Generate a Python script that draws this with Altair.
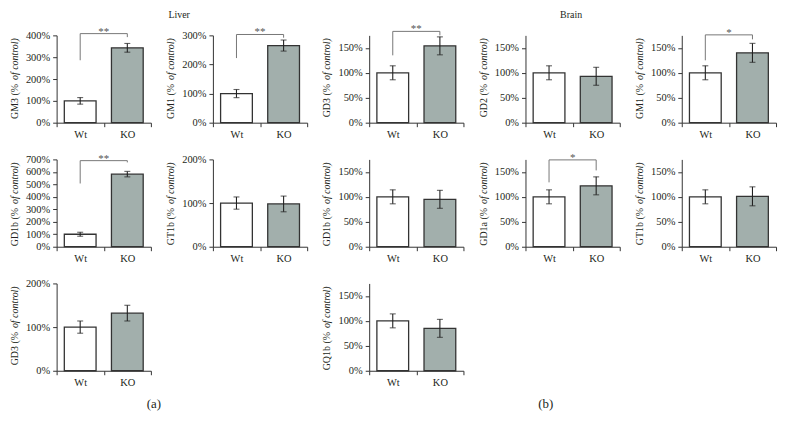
import altair as alt
import pandas as pd

FONT = "Liberation Serif"
TXT = "#231f20"
KO_FILL = "#a2afac"

groups = ["Wt", "KO"]

# Liver panels
liver_names = ["GM3", "GM1", "GD1b", "GT1b", "GD3"]
liver_wt_mean = [100, 100, 100, 100, 100]
liver_wt_err = [15, 14, 16, 14, 14]
liver_ko_mean = [343, 265, 582, 98, 132]
liver_ko_err = [20, 19, 22, 18, 18]
liver_ymax = [400, 300, 700, 200, 200]

# Brain panels
brain_names = ["GD3", "GD2", "GM1", "GD1b", "GD1a", "GT1b", "GQ1b"]
brain_wt_mean = [100, 100, 100, 100, 100, 100, 100]
brain_wt_err = [14, 14, 14, 14, 14, 14, 14]
brain_ko_mean = [154, 93, 140, 95, 122, 101, 85]
brain_ko_err = [18, 18, 19, 18, 18, 19, 18]
brain_ymax = 175
brain_ticks = [0, 50, 100, 150]

# significance brackets: (left bottom, top, right bottom, label)
liver_sig = {"GM3": (286, 408, 392, "**"), "GM1": (222, 303, 292, "**"), "GD1b": (507, 690, 676, "**")}
brain_sig = {"GD3": (135, 183, 175, "**"), "GM1": (125, 176, 167, "*"), "GD1a": (129, 174, 153, "*")}

W = 95
H = 88


def panel(name, wt, wte, ko, koe, ymax, ticks, sig=None, notes=()):
    df = pd.DataFrame({
        "group": groups,
        "mean": [wt, ko],
        "lo": [wt - wte, ko - koe],
        "hi": [wt + wte, ko + koe],
    })
    xscale = alt.Scale(domain=groups, paddingInner=0, paddingOuter=0)
    xaxis = alt.Axis(title=None, labelAngle=0, tickBand="extent", tickSize=4,
                     labelPadding=3, labelFontSize=10.5, labelFont=FONT, labelColor=TXT,
                     domainColor="#333", tickColor="#333", grid=False)
    yscale = alt.Scale(domain=[0, ymax], nice=False, zero=True)
    yaxis = alt.Axis(title=None, values=ticks, labelExpr="datum.value + '%'", tickSize=4,
                     labelPadding=3, labelFontSize=10.5, labelFont=FONT, labelColor=TXT,
                     domainColor="#333", tickColor="#333", grid=False)

    def X(f):
        return alt.X(f, type="nominal", scale=xscale, axis=xaxis)

    def Y(f):
        return alt.Y(f, type="quantitative", scale=yscale, axis=yaxis)

    base = alt.Chart(df)
    bars = base.mark_bar(size=32, stroke="#333", strokeWidth=1.3).encode(
        x=X("group"), y=Y("mean"),
        color=alt.Color("group:N", scale=alt.Scale(domain=groups, range=["white", KO_FILL]), legend=None),
    )
    err = base.mark_rule(color="#222", strokeWidth=1.1).encode(x=X("group"), y=Y("lo"), y2="hi:Q")
    cap_lo = base.mark_tick(color="#222", size=6, thickness=1.1).encode(x=X("group"), y=Y("lo"))
    cap_hi = base.mark_tick(color="#222", size=6, thickness=1.1).encode(x=X("group"), y=Y("hi"))
    layers = [bars, err, cap_lo, cap_hi]

    if sig is not None:
        lb, top, rb, lab = sig
        sdf = pd.DataFrame({"a": ["Wt"], "b": ["KO"], "lb": [lb], "top": [top], "rb": [rb], "lab": [lab]})
        sb = alt.Chart(sdf)
        layers += [
            sb.mark_rule(color="#777", strokeWidth=1).encode(x=X("a"), y=Y("lb"), y2="top:Q"),
            sb.mark_rule(color="#777", strokeWidth=1).encode(x=X("a"), x2="b:N", y=Y("top")),
            sb.mark_rule(color="#777", strokeWidth=1).encode(x=X("b"), y=Y("rb"), y2="top:Q"),
            sb.mark_text(color="#555", font=FONT, fontSize=11, baseline="alphabetic", dy=1).encode(
                x=alt.value(W / 2), y=Y("top"), text="lab:N"),
        ]

    # y-axis title with italic part
    t1 = alt.Chart(pd.DataFrame({"t": [f"{name} (%"]})).mark_text(
        angle=270, align="right", baseline="middle", font=FONT, fontSize=10, color=TXT
    ).encode(x=alt.value(-42), y=alt.value(H / 2 + 5), text="t:N")
    t2 = alt.Chart(pd.DataFrame({"t": ["of control)"]})).mark_text(
        angle=270, align="left", baseline="middle", font=FONT, fontSize=10, color=TXT, fontStyle="italic"
    ).encode(x=alt.value(-42), y=alt.value(H / 2 + 1), text="t:N")
    layers += [t1, t2]

    for txt, nx, ny, fs in notes:
        layers.append(
            alt.Chart(pd.DataFrame({"t": [txt]})).mark_text(
                font=FONT, fontSize=fs, color=TXT, baseline="middle", align="center"
            ).encode(x=alt.value(nx), y=alt.value(ny), text="t:N")
        )

    return alt.layer(*layers).properties(width=W, height=H)


def liver(i, notes=()):
    n = liver_names[i]
    ticks = list(range(0, liver_ymax[i] + 1, 100))
    return panel(n, liver_wt_mean[i], liver_wt_err[i], liver_ko_mean[i], liver_ko_err[i],
                 liver_ymax[i], ticks, liver_sig.get(n), notes)


def brain(i, notes=()):
    n = brain_names[i]
    return panel(n, brain_wt_mean[i], brain_wt_err[i], brain_ko_mean[i], brain_ko_err[i],
                 brain_ymax, brain_ticks, brain_sig.get(n), notes)


empty = alt.Chart(pd.DataFrame({"v": [0]})).mark_point(opacity=0).encode(
    x=alt.value(0), y=alt.value(0)).properties(width=W, height=H)

cells = [
    liver(0), liver(1, notes=[("Liver", -34, -21, 10)]), brain(0), brain(1, notes=[("Brain", 46, -21, 10)]), brain(2),
    liver(2), liver(3), brain(3), brain(4), brain(5),
    liver(4, notes=[("(a)", 98, 122, 13)]), empty, brain(6, notes=[("(b)", 178, 122, 13)]),
]

chart = alt.concat(*cells, columns=5, spacing={"row": 37, "column": 62.5}, bounds="flush").properties(
    padding={"left": 2, "top": 0, "right": 2, "bottom": 2}
).configure(font=FONT, view=alt.ViewConfig(stroke=None))

chart.save("out.html", embed_options={"renderer": "svg", "actions": False})
